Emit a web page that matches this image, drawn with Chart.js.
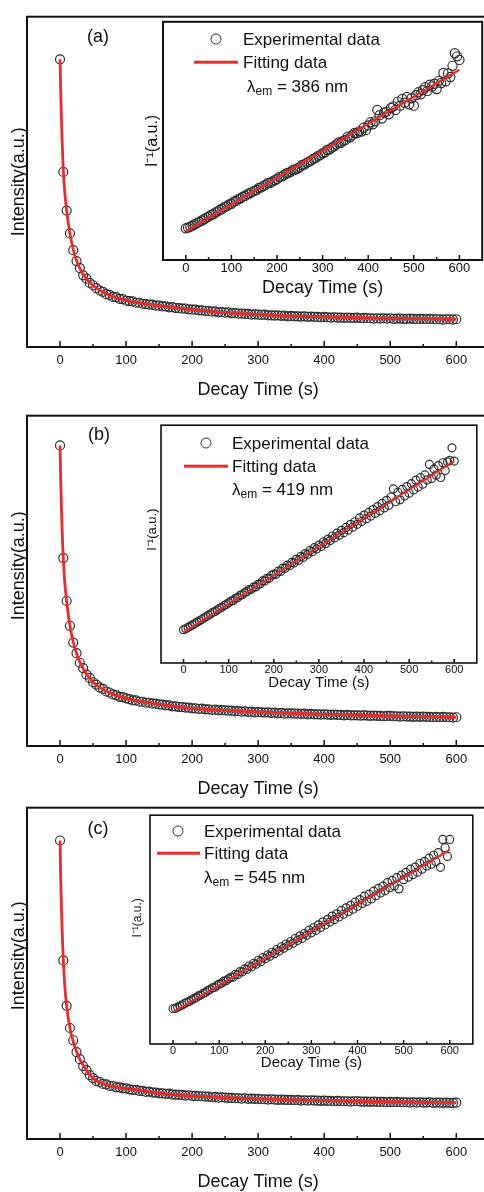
<!DOCTYPE html>
<html>
<head>
<meta charset="utf-8">
<script src="https://cdn.jsdelivr.net/npm/chart.js@4"></script>
<style>
  html, body { margin: 0; padding: 0; background: #fff; }
  body { position: relative; width: 484px; height: 1192px; overflow: hidden; font-family: "Liberation Sans", Arial, sans-serif; color: #111; }
  canvas { position: absolute; }
  .lbl { position: absolute; white-space: nowrap; line-height: 1; transform: translateY(-50%); font-size: 17px; }
  .panel { position: absolute; font-size: 18px; line-height: 1; transform: translate(-50%, -50%); }
  .mk { position: absolute; width: 9px; height: 9px; border: 1.3px solid #333; border-radius: 50%; transform: translate(-50%, -50%); }
  .ln { position: absolute; height: 2.6px; background: #ec2a2a; transform: translateY(-50%); }
  .lbl sub { font-size: 12px; position: relative; top: 3px; vertical-align: baseline; }
</style>
</head>
<body>

<canvas id="mainA" width="495" height="390" style="left:0;top:11px"></canvas>
<canvas id="insetA" width="353" height="284" style="left:135px;top:16px"></canvas>
<canvas id="mainB" width="495" height="390" style="left:0;top:410px"></canvas>
<canvas id="insetB" width="347" height="272" style="left:135px;top:420px"></canvas>
<canvas id="mainC" width="495" height="391" style="left:0;top:802px"></canvas>
<canvas id="insetC" width="358" height="262" style="left:120px;top:810px"></canvas>

<div class="panel" style="left:98px;top:36px">(a)</div>
<div class="panel" style="left:99px;top:434px">(b)</div>
<div class="panel" style="left:98px;top:828px">(c)</div>

<!-- legends -->
<div class="mk" style="left:216px;top:39px"></div>
<div class="lbl" style="left:243px;top:39px">Experimental data</div>
<div class="ln" style="left:194px;top:62px;width:44px"></div>
<div class="lbl" style="left:243px;top:62px">Fitting data</div>
<div class="lbl" style="left:247px;top:86px">λ<sub>em</sub> = 386 nm</div>

<div class="mk" style="left:206px;top:443px"></div>
<div class="lbl" style="left:232px;top:443px">Experimental data</div>
<div class="ln" style="left:184px;top:466px;width:44px"></div>
<div class="lbl" style="left:232px;top:466px">Fitting data</div>
<div class="lbl" style="left:232px;top:489px">λ<sub>em</sub> = 419 nm</div>

<div class="mk" style="left:178px;top:831px"></div>
<div class="lbl" style="left:204px;top:831px">Experimental data</div>
<div class="ln" style="left:157px;top:853px;width:43px"></div>
<div class="lbl" style="left:204px;top:853px">Fitting data</div>
<div class="lbl" style="left:204px;top:877px">λ<sub>em</sub> = 545 nm</div>

<script>
// decay time (s) of the measured points
const times = [0,5,10,15,20,25,30,35,40,45,50,55,60,65,70,75,80,85,90,95,
  100,105,110,115,120,125,130,135,140,145,150,155,160,165,170,175,180,185,190,195,
  200,205,210,215,220,225,230,235,240,245,250,255,260,265,270,275,280,285,290,295,
  300,305,310,315,320,325,330,335,340,345,350,355,360,365,370,375,380,385,390,395,
  400,405,410,415,420,425,430,435,440,445,450,455,460,465,470,475,480,485,490,495,
  500,505,510,515,520,525,530,535,540,545,550,555,560,565,570,575,580,585,590,595,600];
const fitTimes = [0,1,2,3,4,5,7,10,15,20,25,30,40,50,60,80,100,125,150,200,250,300,400,500,600];
const lineTimes = [0, 600];
const xTicks = [0,50,100,150,200,250,300,350,400,450,500,550,600];

// intensity (a.u.) — main panels
const decayA = [87.1,53.0,41.3,34.4,29.3, 26.0,23.9,21.7,20.7,19.4, 18.7,17.8,17.1,16.7,16.0,
  15.8,15.2,15.1,14.6,14.5, 14.0,13.9,13.8,13.4,13.4, 13.1,13.0,12.8,12.8,12.5,
  12.5,12.3,12.3,12.0,12.1, 11.8,11.8,11.6,11.6,11.4, 11.3,11.3,11.1,11.1,10.9,
  10.9,10.7,10.8,10.5,10.6, 10.4,10.5,10.2,10.3,10.1, 10.1,10.0,10.0,9.8,9.9,
  9.8,9.7,9.8,9.6,9.6, 9.5,9.6,9.4,9.5,9.3, 9.4,9.3,9.3,9.2,9.3, 9.1,9.2,9.1,9.1,9.0,
  9.1,9.0,8.9,9.0,8.9, 8.9,8.8,8.9,8.8,8.8, 8.9,8.7,8.8,8.7,8.7, 8.6,8.7,8.6,8.7,8.6,
  8.7,8.5,8.6,8.6,8.5, 8.5,8.6,8.5,8.4,8.5, 8.5,8.4,8.5,8.4,8.4, 8.4,8.3,8.4,8.4,8.3, 8.4];
const decayFitA = [87.1,78,70,63.5,58,53.5,47.3,41.3,34.4,29.6,26.2,23.8,20.6,18.6,17.2,15.3,14.1,13.2,12.5,11.3,10.4,9.8,9.1,8.7,8.4];

const decayB = [91.0,56.9,43.9,36.4,31.3, 28.1,25.2,23.6,21.6,20.6, 19.3,18.6,17.7,17.3,16.5,
  16.2,15.6,15.4,14.9,14.8, 14.4,14.2,13.8,13.8,13.4, 13.4,13.1,13.1,12.8,12.8,
  12.6,12.5,12.3,12.3,12.0, 12.0,11.8,11.8,11.6,11.6, 11.4,11.4,11.2,11.3,11.1,
  11.1,10.9,11.0,10.8,10.9, 10.8,10.7,10.7,10.5,10.6, 10.4,10.5,10.3,10.4,10.2,
  10.3,10.2,10.1,10.2,10.0, 10.1,9.9,10.0,9.8,9.9, 9.9,9.8,9.8,9.7,9.8, 9.6,9.7,9.6,9.6,9.5,
  9.6,9.5,9.4,9.5,9.4, 9.4,9.3,9.4,9.3,9.3, 9.3,9.2,9.3,9.2,9.1, 9.2,9.1,9.1,9.0,9.1,
  9.1,9.0,9.0,8.9,9.0, 8.9,8.9,8.8,8.9,8.8, 8.9,8.8,8.8,8.7,8.8, 8.7,8.8,8.7,8.7,8.6, 8.7];
const decayFitB = [91.0,81,73,66.5,61,56.9,50,43.9,36.4,31.5,28.0,25.4,21.8,19.4,17.8,15.7,14.4,13.4,12.6,11.4,10.8,10.3,9.6,9.1,8.7];

const decayC = [90.1,53.9,40.2,33.5,29.8, 26.2,24.1,22.0,20.8,19.3, 18.4,17.5,17.2,16.6,16.5,
  16.0,16.0,15.6,15.6,15.3, 15.3,15.0,14.8,14.8,14.5, 14.5,14.2,14.3,14.0,14.0,
  13.8,13.8,13.6,13.7,13.4, 13.4,13.3,13.3,13.1,13.2, 13.0,13.0,12.9,12.9,12.8,
  12.8,12.6,12.7,12.5,12.6, 12.5,12.4,12.4,12.3,12.3, 12.2,12.3,12.1,12.2,12.1,
  12.1,12.0,12.0,11.9,12.0, 11.9,11.8,11.9,11.8,11.8, 11.8,11.7,11.8,11.6,11.7, 11.6,11.7,11.6,11.6,11.5,
  11.6,11.5,11.5,11.4,11.5, 11.4,11.4,11.4,11.3,11.4, 11.4,11.3,11.3,11.3,11.2, 11.3,11.2,11.2,11.2,11.1,
  11.2,11.1,11.2,11.1,11.1, 11.1,11.0,11.1,11.0,11.1, 11.0,11.0,11.1,10.9,11.0, 11.0,10.9,11.0,10.9,10.9, 11.0];
const decayFitC = [90.1,79,71,64,58.5,53.9,46.8,40.2,33.5,29.4,26.4,24.0,20.7,18.3,17.1,15.9,15.2,14.6,13.8,13.0,12.5,12.1,11.6,11.25,11.0];

// inverse intensity (a.u.) — insets
const invA = [13.3,13.6,14.0,14.5,15.0, 15.6,16.0,16.6,17.1,17.8, 18.2,18.9,19.2,20.0,20.4,
  21.1,21.5,22.3,22.6,23.3, 23.6,24.5,24.8,25.5,25.9, 26.6,26.9,27.6,28.0,28.5,
  29.0,29.4,30.2,30.5,31.0, 31.6,32.3,32.4,33.0,33.5, 34.0,34.9,35.0,35.6,36.3,
  36.6,37.0,37.8,38.0,38.4, 39.0,39.9,40.1,40.8,41.2, 41.8,42.5,42.9,43.7,44.0,
  44.8,45.2,46.2,46.4,47.2, 47.7,48.5,49.3,49.2,50.0, 50.4,51.8,51.5,52.4,53.3,
  53.2,54.0,53.9,55.5,54.6, 56.5,57.8,57.0,58.2,63.0, 60.8,59.4,61.8,62.3,61.2,
  63.8,64.5,63.0,66.5,64.8, 67.6,66.0,68.4,65.4,67.9, 64.8,69.2,70.4,69.6,71.3,
  72.5,71.0,73.6,72.8,74.0, 71.8,75.2,74.3,78.5,75.0, 78.3,76.8,81.5,86.8,85.5, 84.0];
const invFitA = [12.0, 79.9];

const invB = [14.0,14.4,15.0,15.5,16.0, 16.6,17.2,17.7,18.3,18.9, 19.5,20.1,20.6,21.3,21.7,
  22.4,23.0,23.4,24.2,24.6, 25.3,26.0,26.3,27.2,27.5, 28.4,28.7,29.5,30.0,30.9,
  31.0,31.9,32.0,33.1,33.3, 34.5,34.5,35.6,35.6,36.9, 37.4,37.3,38.6,38.5,39.9,
  39.8,41.2,40.9,42.3,42.1, 43.6,43.1,44.8,44.4,46.0, 45.6,47.3,46.8,48.5,47.9,
  49.6,49.0,50.9,50.2,52.0, 51.5,53.4,52.6,54.6,53.7, 55.8,54.8,57.0,55.9,58.3,
  57.1,59.4,58.3,61.0,59.5, 62.2,60.6,63.3,61.8,64.5, 62.9,65.8,64.0,67.1,65.2,
  68.4,66.3,69.8,73.2,67.8, 71.8,68.6,73.0,70.2,74.2, 71.4,75.4,72.8,76.9,74.0,
  78.0,75.2,79.1,77.0,83.5, 77.6,81.6,79.0,83.0,78.0, 84.2,81.0,84.6,85.2,90.5, 84.9];
const invFitB = [13.0, 84.9];

const invC = [15.4,15.6,16.1,16.6,17.1, 17.7,18.2,18.6,19.3,19.8, 20.3,21.0,21.4,22.1,22.5,
  23.3,23.8,24.5,24.7,25.6, 26.2,26.5,27.5,27.6,28.5, 29.1,29.2,30.4,30.3,31.6,
  31.5,32.8,32.6,34.1,33.7, 35.3,34.9,36.6,36.0,37.8, 37.3,38.9,38.3,40.1,39.5,
  41.3,40.6,42.5,41.8,43.7, 43.0,44.8,44.0,46.1,45.2, 47.3,46.2,48.3,47.5,49.8,
  48.6,50.8,49.7,52.1,50.9, 53.4,52.0,54.5,53.3,55.9, 54.4,56.9,55.5,58.4,56.7,
  59.5,57.8,60.6,58.9,62.0, 60.2,63.1,61.4,64.6,62.3, 65.5,63.4,66.8,64.8,68.0,
  66.0,69.0,67.0,70.6,68.3, 71.5,69.1,72.7,67.8,73.8, 71.8,75.0,72.9,76.4,74.0,
  77.3,75.1,79.0,76.4,79.8, 77.8,81.2,78.6,82.5,79.7, 83.6,77.2,89.4,85.8,82.0, 89.4];
const invFitC = [13.9, 84.8];

const RED = '#ec2a2a';
const FONT = '"Liberation Sans", Arial, sans-serif';

function pts(xs, ys) {
    return xs.map((x, i) => ({ x: x, y: ys[i] }));
}

// box around the plot + inward tick marks
const framePlugin = {
    id: 'frame',
    afterDraw(chart, args, opts) {
        const ctx = chart.ctx;
        const a = chart.chartArea;
        const x = chart.scales.x;
        ctx.save();
        ctx.strokeStyle = '#111';
        ctx.lineWidth = opts.width;
        ctx.strokeRect(a.left, a.top, a.right - a.left, a.bottom - a.top);
        ctx.lineWidth = 1.5;
        x.ticks.forEach(t => {
            const px = x.getPixelForValue(t.value);
            const len = t.value % 100 === 0 ? opts.major : opts.minor;
            ctx.beginPath();
            ctx.moveTo(px, a.bottom);
            ctx.lineTo(px, a.bottom - len);
            ctx.stroke();
        });
        ctx.restore();
    }
};

function makeChart(id, s) {
    const ctx = document.getElementById(id).getContext('2d');
    return new Chart(ctx, {
        type: 'scatter',
        data: {
            datasets: [{
                data: pts(s.fitX, s.fitY),
                showLine: true,
                borderColor: RED,
                borderWidth: s.lineW,
                pointRadius: 0,
                cubicInterpolationMode: 'monotone',
                order: 0
            }, {
                data: pts(times, s.expY),
                showLine: false,
                pointStyle: 'circle',
                pointRadius: s.r,
                pointBorderWidth: 1.2,
                pointBorderColor: '#2e2e2e',
                pointBackgroundColor: 'rgba(0,0,0,0)',
                order: 1
            }]
        },
        options: {
            responsive: false,
            animation: false,
            events: [],
            layout: { padding: { top: 2, right: 2, left: 0, bottom: 0 } },
            plugins: {
                legend: { display: false },
                tooltip: { enabled: false },
                frame: { width: s.frameW, major: s.major, minor: s.minor }
            },
            scales: {
                x: {
                    type: 'linear',
                    min: -50,
                    max: 650,
                    afterBuildTicks: sc => { sc.ticks = xTicks.map(v => ({ value: v })); },
                    afterFit: sc => { sc.height = s.xH; },
                    grid: { display: false, drawTicks: false },
                    border: { display: false },
                    ticks: {
                        autoSkip: false,
                        maxRotation: 0,
                        padding: s.tickPad,
                        color: '#111',
                        font: { family: FONT, size: s.tickSize },
                        callback: v => (v % 100 === 0 ? String(v) : '')
                    },
                    title: {
                        display: true,
                        text: 'Decay Time (s)',
                        color: '#111',
                        font: { family: FONT, size: s.titleSize },
                        padding: { top: 0, bottom: s.titlePadB }
                    }
                },
                y: {
                    type: 'linear',
                    min: 0,
                    max: 100,
                    afterFit: sc => { sc.width = s.yW; },
                    grid: { display: false, drawTicks: false },
                    border: { display: false },
                    ticks: { display: false },
                    title: {
                        display: true,
                        text: s.yTitle,
                        color: '#111',
                        font: { family: FONT, size: s.yTitleSize },
                        padding: { top: s.yTitlePad, bottom: 0 }
                    }
                }
            }
        },
        plugins: [framePlugin]
    });
}

const mainStyle = { fitX: fitTimes, lineW: 2.8, r: 4.5, frameW: 2, major: 6, minor: 3,
    xH: 54, yW: 27, tickPad: 6, tickSize: 13, titleSize: 18, titlePadB: 0, yTitleSize: 18, yTitlePad: 8 };

makeChart('mainA', Object.assign({}, mainStyle, { fitY: decayFitA, expY: decayA, yTitle: 'Intensity(a.u.)' }));
makeChart('mainB', Object.assign({}, mainStyle, { fitY: decayFitB, expY: decayB, yTitle: '      Intensity(a.u.)' }));
makeChart('mainC', Object.assign({}, mainStyle, { fitY: decayFitC, expY: decayC, yTitle: '       Intensity(a.u.)' }));

makeChart('insetA', { fitX: lineTimes, fitY: invFitA, expY: invA, lineW: 2.4, r: 4.6, frameW: 2, major: 5, minor: 3,
    xH: 40, yW: 28, tickPad: 1, tickSize: 13, titleSize: 18, titlePadB: 1,
    yTitle: 'I⁻¹(a.u.)', yTitleSize: 16, yTitlePad: 8 });
makeChart('insetB', { fitX: lineTimes, fitY: invFitB, expY: invB, lineW: 2, r: 4, frameW: 1.6, major: 4, minor: 2.5,
    xH: 29, yW: 26, tickPad: 0, tickSize: 11, titleSize: 15, titlePadB: 0,
    yTitle: '        I⁻¹(a.u.)', yTitleSize: 13, yTitlePad: 10 });
makeChart('insetC', { fitX: lineTimes, fitY: invFitC, expY: invC, lineW: 2, r: 4, frameW: 1.6, major: 4, minor: 2.5,
    xH: 28, yW: 30, tickPad: 0, tickSize: 11, titleSize: 15, titlePadB: 0,
    yTitle: '       I⁻¹(a.u.)', yTitleSize: 12, yTitlePad: 10 });
</script>
</body>
</html>
